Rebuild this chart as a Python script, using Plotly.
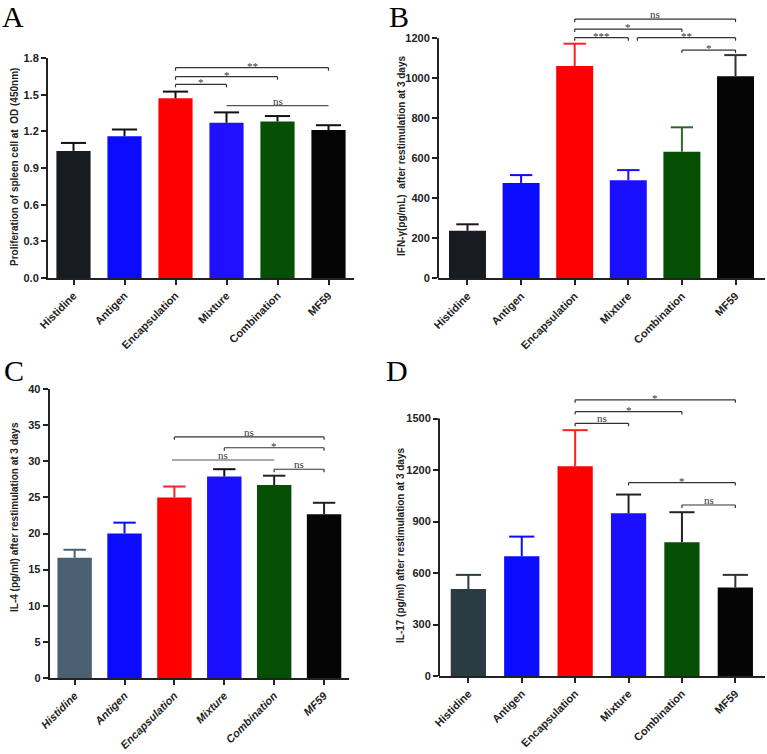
import plotly.graph_objects as go

# ---------------- data ----------------
categories = ["Histidine", "Antigen", "Encapsulation", "Mixture", "Combination", "MF59"]

prolif_mean = [1.04, 1.16, 1.47, 1.27, 1.28, 1.21]
prolif_err = [0.065, 0.055, 0.055, 0.085, 0.045, 0.04]

ifng_mean = [238, 477, 1061, 490, 633, 1010]
ifng_err = [32, 39, 112, 51, 122, 106]

il4_mean = [16.65, 20.0, 25.0, 27.9, 26.7, 22.65]
il4_err = [1.1, 1.5, 1.5, 1.0, 1.3, 1.6]

il17_mean = [507, 698, 1222, 948, 779, 515]
il17_err = [82, 114, 210, 109, 175, 74]

ticks_A = [0.0, 0.3, 0.6, 0.9, 1.2, 1.5, 1.8]
ticks_B = [0, 200, 400, 600, 800, 1000, 1200]
ticks_C = [0, 5, 10, 15, 20, 25, 30, 35, 40]
ticks_D = [0, 300, 600, 900, 1200, 1500]

# significance comparisons: (from index, to index, label)
sig_A = [(2, 5, "**"), (2, 4, "*"), (2, 3, "*"), (3, 5, "ns")]
sig_B = [(2, 5, "ns"), (2, 4, "*"), (2, 3, "***"), (3.17, 5, "**"), (4, 5, "*")]
sig_C = [(2, 5, "ns"), (3, 5, "*"), (1.95, 4, "ns"), (4, 5, "ns")]
sig_D = [(2, 5, "*"), (2, 4, "*"), (2, 3, "ns"), (3, 5, "*"), (4, 5, "ns")]

# ---------------- styling / layout ----------------
W, H = 767, 754
AX = "#222222"

def px_x(p):
    return p / W

def px_y(p):
    return 1 - p / H

panels = [
    dict(key="", mean=prolif_mean, err=prolif_err, ticks=ticks_A,
         ticktext=[f"{t:.1f}" for t in ticks_A], yrange=[0, 1.8],
         xdom=[px_x(48), px_x(354)], ydom=[px_y(278), px_y(58)], xr=[-0.5, 5.5],
         bw=0.67, colors=["#161c21", "#0b0bff", "#ff0000", "#2010ff", "#055005", "#050505"],
         ecolors=["#111111"] * 6, cap=9, manual_line=None,
         sig=sig_A, levels=[1.721, 1.647, 1.585, 1.41], plain=[False, False, False, True],
         drop=0.025, italic=False,
         title="Proliferation of spleen cell at  OD (450nm)", tpos=(15, 167),
         letter="A", lpos=(13, 16)),
    dict(key="2", mean=ifng_mean, err=ifng_err, ticks=ticks_B,
         ticktext=[str(t) for t in ticks_B], yrange=[0, 1340],
         xdom=[px_x(438), px_x(765)], ydom=[px_y(278.3), px_y(10.3)], xr=[-0.55, 5.55],
         bw=0.69, colors=["#161c21", "#0b0bff", "#ff0000", "#1a10ff", "#054f05", "#050505"],
         ecolors=["#1a1a1a", "#0b0bff", "#ff2020", "#1a10ff", "#2b6a2b", "#333333"], cap=8,
         manual_line=1200,
         sig=sig_B, levels=[1296, 1246, 1203, 1203, 1141], plain=[False] * 5,
         drop=15, italic=False,
         title="IFN-γ(pg/mL)  after restimulation at 3 days", tpos=(402, 156),
         letter="B", lpos=(399, 16)),
    dict(key="3", mean=il4_mean, err=il4_err, ticks=ticks_C,
         ticktext=[str(t) for t in ticks_C], yrange=[0, 40],
         xdom=[px_x(49.7), px_x(349)], ydom=[px_y(678), px_y(389)], xr=[-0.5, 5.5],
         bw=0.69, colors=["#4b6070", "#0b0bff", "#ff0000", "#1a10ff", "#055005", "#050505"],
         ecolors=["#4b6070", "#0b0bff", "#ff2020", "#111111", "#222222", "#222222"], cap=8,
         manual_line=None,
         sig=sig_C, levels=[33.36, 31.87, 30.17, 28.89], plain=[False, False, True, False],
         drop=0.4, italic=True,
         title="IL-4 (pg/ml) after restimulation at 3 days", tpos=(14, 517),
         letter="C", lpos=(14, 370)),
    dict(key="4", mean=il17_mean, err=il17_err, ticks=ticks_D,
         ticktext=[str(t) for t in ticks_D], yrange=[0, 1680],
         xdom=[px_x(439), px_x(764.7)], ydom=[px_y(676), px_y(387.6)], xr=[-0.55, 5.55],
         bw=0.66, colors=["#2a3b42", "#0b0bff", "#ff0000", "#1a10ff", "#055005", "#050505"],
         ecolors=["#2a3b42", "#0b0bff", "#ff2020", "#222222", "#222222", "#333333"], cap=9,
         manual_line=1500,
         sig=sig_D, levels=[1609, 1540, 1472, 1126, 996], plain=[False] * 5,
         drop=17, italic=False,
         title="IL-17 (pg/ml) after restimulation at 3 days", tpos=(400, 546),
         letter="D", lpos=(397, 370)),
]

fig = go.Figure()
shapes = []
annotations = []
layout = dict(
    template="none",
    width=W, height=H, margin=dict(l=0, r=0, t=0, b=0, pad=0, autoexpand=False),
    paper_bgcolor="white", plot_bgcolor="rgba(0,0,0,0)",
    barmode="overlay", showlegend=False,
    font=dict(family="Liberation Sans, Arial", color=AX),
)

for p in panels:
    k = p["key"]
    xa, ya = "x" + k, "y" + k
    for i, cat in enumerate(categories):
        fig.add_trace(go.Bar(
            x=[cat], y=[p["mean"][i]], width=p["bw"],
            marker=dict(color=p["colors"][i], line=dict(width=0)),
            error_y=dict(type="data", symmetric=False, array=[p["err"][i]], arrayminus=[0],
                         color=p["ecolors"][i], thickness=2, width=0),
            xaxis=xa, yaxis=ya, hoverinfo="skip",
        ))
    # error-bar caps at mean + err
    fig.add_trace(go.Scatter(
        x=categories, y=[m + e for m, e in zip(p["mean"], p["err"])], mode="markers",
        marker=dict(symbol="line-ew", size=2 * p["cap"],
                    line=dict(color=p["ecolors"], width=2)),
        xaxis=xa, yaxis=ya, hoverinfo="skip", cliponaxis=False,
    ))
    tickfont_x = dict(family="Liberation Sans, Arial", size=11, weight="bold", color=AX)
    if p["italic"]:
        tickfont_x["style"] = "italic"
    layout["xaxis" + k] = dict(
        domain=p["xdom"], anchor=ya, type="category", categoryarray=categories,
        range=p["xr"], showline=True, linecolor=AX, linewidth=2,
        ticks="outside", ticklen=5, tickwidth=2, tickcolor=AX, tickangle=-45,
        tickfont=tickfont_x, showgrid=False, zeroline=False, fixedrange=True,
        automargin=False,
    )
    layout["yaxis" + k] = dict(
        domain=p["ydom"], anchor=xa, range=p["yrange"],
        tickmode="array", tickvals=p["ticks"], ticktext=p["ticktext"],
        showline=p["manual_line"] is None, linecolor=AX, linewidth=2,
        ticks="outside", ticklen=5, tickwidth=2, tickcolor=AX,
        tickfont=dict(family="Liberation Sans, Arial", size=11, weight="bold", color=AX),
        showgrid=False, zeroline=False, fixedrange=True, automargin=False,
    )
    if p["manual_line"] is not None:
        shapes.append(dict(type="line", xref=xa + " domain", yref=ya, x0=0, x1=0,
                           y0=0, y1=p["manual_line"], line=dict(color=AX, width=2)))
    # significance brackets
    for (a, b, lab), lev, plain in zip(p["sig"], p["levels"], p["plain"]):
        lc = "#555555" if plain else "#333333"
        shapes.append(dict(type="line", xref=xa, yref=ya, x0=a, x1=b, y0=lev, y1=lev,
                           line=dict(color=lc, width=1.2)))
        if not plain:
            for xx in (a, b):
                shapes.append(dict(type="line", xref=xa, yref=ya, x0=xx, x1=xx,
                                   y0=lev, y1=lev - p["drop"],
                                   line=dict(color=lc, width=1.2)))
        star = lab != "ns"
        annotations.append(dict(
            x=(a + b) / 2, y=lev, xref=xa, yref=ya, text=lab, showarrow=False,
            xanchor="center", yanchor="bottom", yshift=-6 if star else -3,
            font=dict(family="Liberation Serif, Times New Roman", size=11,
                      color="#333333"),
        ))
    # axis title
    annotations.append(dict(
        x=px_x(p["tpos"][0]), y=px_y(p["tpos"][1]), xref="paper", yref="paper",
        text=p["title"], textangle=-90, showarrow=False, xanchor="center", yanchor="middle",
        font=dict(family="Liberation Sans, Arial", size=10, weight="bold", color=AX),
    ))
    # panel letter
    annotations.append(dict(
        x=px_x(p["lpos"][0]), y=px_y(p["lpos"][1]), xref="paper", yref="paper",
        text=p["letter"], showarrow=False, xanchor="center", yanchor="middle",
        font=dict(family="Liberation Serif, Times New Roman", size=30, color="black"),
    ))

layout["shapes"] = shapes
layout["annotations"] = annotations
fig.update_layout(**layout)
fig.write_html(
    "out.html",
    config={"displayModeBar": False, "staticPlot": True},
    post_script="document.body.style.margin='0px';document.body.style.overflow='hidden';",
)
